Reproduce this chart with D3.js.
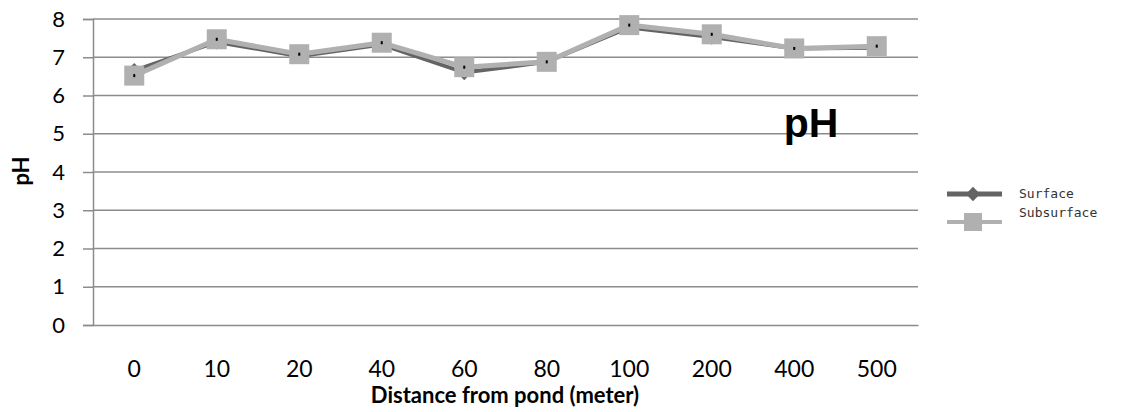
<!DOCTYPE html>
<html><head><meta charset="utf-8">
<script src="https://cdn.jsdelivr.net/npm/d3@7"></script>
<style>body{margin:0;background:#fff}svg{display:block}</style>
</head><body>
<svg id="c" width="1129" height="412"></svg>
<script>
const categories = ["0","10","20","40","60","80","100","200","400","500"];
const surface = [6.65,7.4,7.03,7.33,6.6,6.88,7.78,7.53,7.23,7.25];
const subsurface = [6.52,7.47,7.08,7.38,6.74,6.88,7.84,7.6,7.23,7.29];
const yTicks = [0,1,2,3,4,5,6,7,8];
const seriesNames = ["Surface","Subsurface"];

const svg = d3.select("#c");
const L=93,R=918,T=19,B=325;
const x = d3.scaleBand().domain(categories).range([L,R]);
const y = d3.scaleLinear().domain([0,8]).range([B,T]);
const font = "Lato, 'Open Sans', sans-serif";
const grid = "#8c8c8c";

// gridlines
svg.append("g").selectAll("line").data(yTicks.filter(d=>d>0)).join("line")
  .attr("x1",L).attr("x2",R).attr("y1",d=>y(d)).attr("y2",d=>y(d))
  .attr("stroke",grid).attr("stroke-width",1.5);

// y axis
const ya = svg.append("g").attr("transform",`translate(${L},0)`)
  .call(d3.axisLeft(y).tickValues(yTicks).tickSize(10).tickPadding(18).tickFormat(d3.format("d")));
ya.select(".domain").attr("stroke",grid).attr("stroke-width",1.5);
ya.selectAll(".tick line").attr("stroke",grid).attr("stroke-width",1.5);
ya.selectAll("text").attr("font-family",font).attr("font-size",22).attr("fill","#000");

// x axis
const xa = svg.append("g").attr("transform",`translate(0,${B})`)
  .call(d3.axisBottom(x).tickSize(0));
xa.select(".domain").attr("stroke",grid).attr("stroke-width",1.5);
xa.selectAll("text").attr("font-family",font).attr("font-size",23).attr("fill","#000")
  .attr("y",52).attr("dy","0");

const cx = d => x(d)+x.bandwidth()/2;
const line = d3.line().x((d,i)=>cx(categories[i])).y(d=>y(d));

// surface
svg.append("path").datum(surface).attr("d",line).attr("fill","none")
  .attr("stroke","#646464").attr("stroke-width",4);
svg.append("g").selectAll("path").data(surface).join("path")
  .attr("d",d3.symbol(d3.symbolDiamond2,150)())
  .attr("transform",(d,i)=>`translate(${cx(categories[i])},${y(d)})`)
  .attr("fill","#646464");

// subsurface
svg.append("path").datum(subsurface).attr("d",line).attr("fill","none")
  .attr("stroke","#b0b0b0").attr("stroke-width",5);
svg.append("g").selectAll("rect").data(subsurface).join("rect")
  .attr("x",(d,i)=>cx(categories[i])-10).attr("y",d=>y(d)-10)
  .attr("width",20).attr("height",20).attr("fill","#b0b0b0");
svg.append("g").selectAll("rect").data(subsurface).join("rect")
  .attr("x",(d,i)=>cx(categories[i])-1).attr("y",d=>y(d)-1.5)
  .attr("width",2).attr("height",3).attr("fill","#000");

// titles
svg.append("text").attr("x",811).attr("y",137).attr("text-anchor","middle")
  .attr("font-family","'Liberation Sans', Arial, sans-serif").attr("font-weight","bold").attr("font-size",41).text("pH");
svg.append("text").attr("transform","translate(29,171) rotate(-90)").attr("text-anchor","middle")
  .attr("font-family",font).attr("font-weight","bold").attr("font-size",22).text("pH");
svg.append("text").attr("x",505).attr("y",403).attr("text-anchor","middle")
  .attr("font-family",font).attr("font-weight","bold").attr("font-size",22).text("Distance from pond (meter)");

// legend
const lg = svg.append("g");
const ly = [194,222];
lg.append("line").attr("x1",947).attr("x2",1002).attr("y1",ly[0]).attr("y2",ly[0]).attr("stroke","#646464").attr("stroke-width",5);
lg.append("path").attr("d",d3.symbol(d3.symbolDiamond2,130)()).attr("transform",`translate(973,${ly[0]})`).attr("fill","#646464");
lg.append("line").attr("x1",947).attr("x2",1002).attr("y1",ly[1]).attr("y2",ly[1]).attr("stroke","#b0b0b0").attr("stroke-width",4);
lg.append("rect").attr("x",964).attr("y",ly[1]-9).attr("width",18).attr("height",18).attr("fill","#b0b0b0");
lg.selectAll("text").data(seriesNames).join("text")
  .attr("x",1019).attr("y",(d,i)=>ly[i]+4-i*9+ (i===0?0:0)).attr("font-family","'DejaVu Sans Mono', monospace")
  .attr("font-size",13).attr("fill","#333").text(d=>d);
</script>
</body></html>
